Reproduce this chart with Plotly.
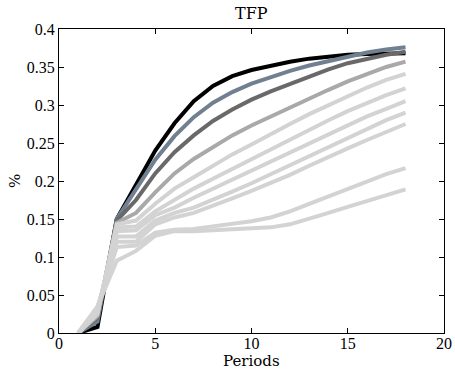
import plotly.graph_objects as go

periods = list(range(1, 19))

black = [0, 0.008, 0.150, 0.196, 0.240, 0.276, 0.305, 0.325, 0.338, 0.346, 0.352, 0.357, 0.361, 0.364, 0.366, 0.367, 0.368, 0.368]
bluegray = [0, 0.015, 0.150, 0.190, 0.228, 0.259, 0.284, 0.303, 0.317, 0.328, 0.337, 0.345, 0.352, 0.358, 0.364, 0.369, 0.373, 0.376]
darkgray = [0, 0.020, 0.148, 0.175, 0.210, 0.238, 0.260, 0.279, 0.294, 0.307, 0.318, 0.328, 0.338, 0.347, 0.355, 0.361, 0.366, 0.370]
gray = [0, 0.022, 0.145, 0.158, 0.185, 0.210, 0.229, 0.245, 0.260, 0.273, 0.285, 0.297, 0.309, 0.320, 0.331, 0.341, 0.350, 0.357]
light1 = [0, 0.025, 0.143, 0.148, 0.170, 0.190, 0.205, 0.220, 0.235, 0.248, 0.262, 0.275, 0.288, 0.300, 0.312, 0.323, 0.333, 0.341]
light2 = [0, 0.027, 0.139, 0.140, 0.160, 0.175, 0.190, 0.203, 0.216, 0.229, 0.242, 0.255, 0.268, 0.280, 0.292, 0.303, 0.313, 0.322]
light3 = [0, 0.029, 0.134, 0.135, 0.155, 0.165, 0.178, 0.190, 0.202, 0.214, 0.226, 0.238, 0.250, 0.262, 0.274, 0.285, 0.295, 0.305]
light4 = [0, 0.031, 0.127, 0.127, 0.148, 0.158, 0.165, 0.175, 0.186, 0.197, 0.209, 0.221, 0.233, 0.245, 0.257, 0.268, 0.280, 0.290]
light5 = [0, 0.033, 0.120, 0.120, 0.143, 0.152, 0.158, 0.167, 0.177, 0.187, 0.197, 0.208, 0.220, 0.232, 0.243, 0.254, 0.265, 0.275]
light6 = [0, 0.034, 0.113, 0.115, 0.132, 0.136, 0.137, 0.140, 0.143, 0.147, 0.152, 0.160, 0.170, 0.180, 0.190, 0.200, 0.209, 0.217]
light7 = [0, 0.035, 0.095, 0.108, 0.128, 0.134, 0.134, 0.135, 0.136, 0.137, 0.139, 0.143, 0.150, 0.158, 0.166, 0.174, 0.182, 0.189]

series = [
    (black, "#000000"),
    (bluegray, "#708090"),
    (darkgray, "#696969"),
    (gray, "#a9a9a9"),
    (light1, "#d3d3d3"),
    (light2, "#d3d3d3"),
    (light3, "#d3d3d3"),
    (light4, "#d3d3d3"),
    (light5, "#d3d3d3"),
    (light6, "#d3d3d3"),
    (light7, "#d3d3d3"),
]

x_ticks = [0, 5, 10, 15, 20]
x_tick_labels = ["0", "5", "10", "15", "20"]
y_ticks = [0, 0.05, 0.1, 0.15, 0.2, 0.25, 0.3, 0.35, 0.4]
y_tick_labels = ["0", "0.05", "0.1", "0.15", "0.2", "0.25", "0.3", "0.35", "0.4"]

fig = go.Figure()
for vals, col in series:
    fig.add_trace(go.Scatter(x=periods, y=vals, mode="lines",
                             line=dict(color=col, width=4), showlegend=False,
                             hoverinfo="skip"))

tick_font = dict(family="Liberation Serif", size=16, color="black")
label_font = dict(family="DejaVu Serif", size=15, color="black")

fig.update_layout(
    width=455, height=369,
    margin=dict(l=59, r=11, t=29, b=36, autoexpand=False),
    paper_bgcolor="white", plot_bgcolor="white",
    font=tick_font,
)
fig.add_annotation(text="TFP", x=0.5, xref="paper", y=1 + 16 / 304, yref="paper",
                   showarrow=False, xanchor="center", yanchor="middle",
                   font=dict(family="DejaVu Serif", size=16, color="black"))
fig.add_annotation(text="Periods", x=0.5, xref="paper", y=-28 / 304, yref="paper",
                   showarrow=False, xanchor="center", yanchor="middle", font=label_font)
fig.add_annotation(text="%", x=-44 / 385, xref="paper", y=0.5, yref="paper",
                   showarrow=False, xanchor="center", yanchor="middle", textangle=-90,
                   font=label_font)
fig.update_xaxes(range=[0, 20], tickvals=x_ticks, ticktext=x_tick_labels,
                 ticks="inside", ticklen=5, tickcolor="black", showline=True,
                 linecolor="black", linewidth=1, mirror="ticks", showgrid=False,
                 zeroline=False, automargin=False, ticklabelstandoff=-4,
                 tickfont=tick_font)
fig.update_yaxes(range=[0, 0.4], tickvals=y_ticks, ticktext=y_tick_labels,
                 ticks="inside", ticklen=5, tickcolor="black", showline=True,
                 linecolor="black", linewidth=1, mirror="ticks", showgrid=False,
                 zeroline=False, automargin=False, tickfont=tick_font)

fig.write_html("out.html", config={"displayModeBar": False},
               post_script="document.body.style.margin='0';document.body.style.overflow='hidden';")
